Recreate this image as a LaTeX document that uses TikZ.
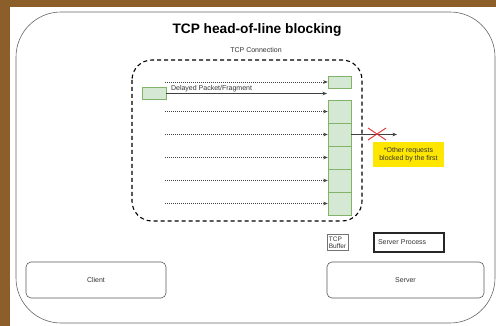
\documentclass[tikz,border=0pt]{standalone}
\usepackage{fontspec}
\setmainfont{Liberation Sans}
\usetikzlibrary{arrows.meta}
\definecolor{bgbrown}{RGB}{139,94,42}
\definecolor{pktfill}{RGB}{213,232,212}
\definecolor{pktline}{RGB}{130,179,102}
\definecolor{noteyellow}{RGB}{255,230,0}
\definecolor{crossred}{RGB}{225,45,45}
\definecolor{txtgray}{RGB}{51,51,51}
\begin{document}
\begin{tikzpicture}[x=1pt,y=-1pt,
	small/.style={font=\fontsize{7}{8.4}\selectfont,text=txtgray},
	pkt/.style={draw=pktline,fill=pktfill,line width=0.6pt,inner sep=0pt},
	tip/.style={-{Stealth[length=4.5pt,width=3.5pt]}},
	dotarrow/.style={tip,draw=black!75,line width=0.5pt,dash pattern=on 1pt off 1pt},
	hostbox/.style={small,draw=black!65,line width=0.6pt,rounded corners=5pt,minimum width=140pt,minimum height=36pt}]
		\useasboundingbox (0,0) rectangle (496,326);
		\fill[bgbrown] (0,0) rectangle (496,326);
		\fill[white] (10,7) rectangle (496,326);
		\draw[black!60,line width=0.6pt,rounded corners=45pt] (16,12) rectangle (495,323);
		\node (title) at (257,30) {\fontsize{13.7}{16}\selectfont\bfseries TCP head-of-line blocking};
		\node[small] (conn) at (256,50) {TCP Connection};
		\draw[line width=1.1pt,dash pattern=on 4pt off 3pt,rounded corners=20pt] (132,60) rectangle (362,221);
		% packets
		\node[pkt,minimum width=23pt,minimum height=12pt] (top) at (339.5,82) {};
		\node[pkt,minimum width=24pt,minimum height=11.5pt] (delayed) at (154,93.5) {};
		\node[pkt,minimum width=23pt,minimum height=23pt] (c1) at (339.5,111.5) {};
		\node[pkt,minimum width=23pt,minimum height=23pt] (c2) at (339.5,134.5) {};
		\node[pkt,minimum width=23pt,minimum height=23pt] (c3) at (339.5,157.5) {};
		\node[pkt,minimum width=23pt,minimum height=23pt] (c4) at (339.5,180.5) {};
		\node[pkt,minimum width=23pt,minimum height=23pt] (c5) at (339.5,203.5) {};
		\coordinate (s0) at (165,82);
		\coordinate (s1) at (165,111.5);
		\coordinate (s2) at (165,134.5);
		\coordinate (s3) at (165,157.5);
		\coordinate (s4) at (165,180.5);
		\coordinate (s5) at (165,203.5);
		\coordinate (gap) at (327,93.5);
		\draw[dotarrow] (s0) -- (top.west);
		\draw[tip,black!75,line width=0.6pt] (delayed.east) -- (gap) node[small,pos=0,anchor=south west,inner sep=1.5pt,xshift=3pt] (dlabel) {Delayed Packet/Fragment};
		\draw[dotarrow] (s1) -- (c1.west);
		\draw[dotarrow] (s2) -- (c2.west);
		\draw[dotarrow] (s3) -- (c3.west);
		\draw[dotarrow] (s4) -- (c4.west);
		\draw[dotarrow] (s5) -- (c5.west);
		% blocked request
		\coordinate (out) at (397,134.5);
		\draw[tip,black!75,line width=0.6pt] (c2.east) -- (out);
		\draw[crossred,line width=0.9pt] (368,128) -- (386,140) (368,140) -- (386,128);
		\node[small,fill=noteyellow,minimum width=71pt,minimum height=25pt,inner sep=1pt,align=center] (note) at (408.5,154.5) {*Other requests\\blocked by the first};
		% legend and hosts
		\node[small,draw=black!55,line width=0.5pt,inner sep=2pt,align=left,font=\fontsize{6.5}{7.2}\selectfont] (buffer) at (337.5,242.5) {TCP\\Buffer};
		\node[small,draw=black!85,line width=1.2pt,minimum width=70pt,minimum height=19pt,text width=62pt,inner sep=4pt,align=left] (proc) at (409,242.5) {Server Process};
		\node[hostbox] (client) at (96,280) {Client};
		\node[hostbox,minimum width=157pt] (server) at (405.5,280) {Server};
	\end{tikzpicture}
\end{document}
